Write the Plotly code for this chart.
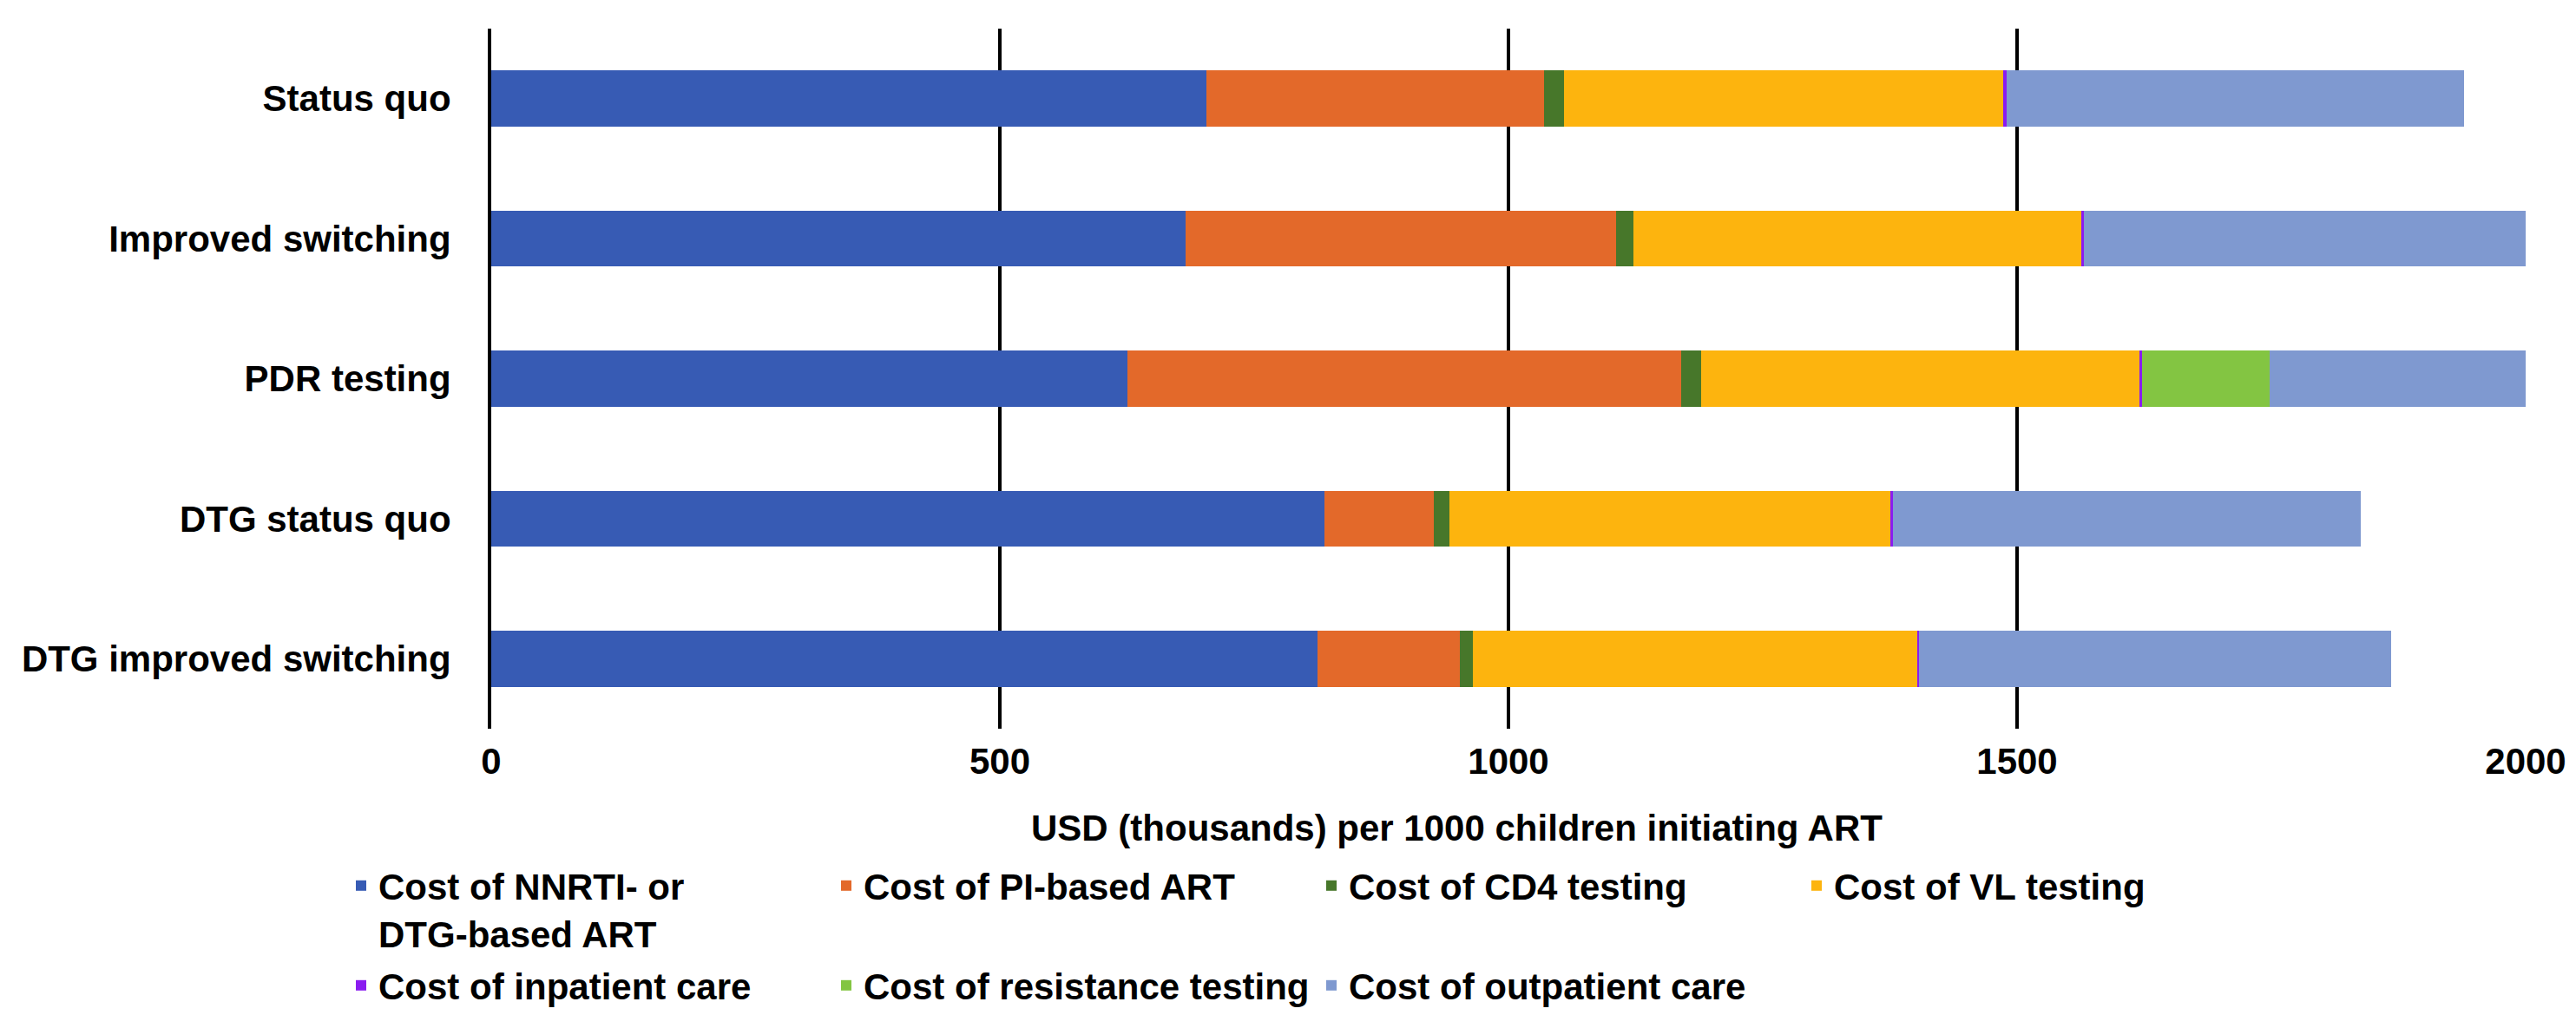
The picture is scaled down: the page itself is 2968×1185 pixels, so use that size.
import plotly.graph_objects as go

scenarios = ["Status quo", "Improved switching", "PDR testing", "DTG status quo", "DTG improved switching"]

series_names = [
    "Cost of NNRTI- or<br>DTG-based ART",
    "Cost of PI-based ART",
    "Cost of CD4 testing",
    "Cost of VL testing",
    "Cost of inpatient care",
    "Cost of resistance testing",
    "Cost of outpatient care",
]

nnrti_dtg_art = [703, 683, 625, 819, 812]
pi_art = [332, 423, 545, 108, 140]
cd4_testing = [20, 17, 19, 15, 13]
vl_testing = [431, 440, 431, 433, 437]
inpatient_care = [4, 3, 3, 3, 2]
resistance_testing = [0, 0, 125, 0, 0]
outpatient_care = [449, 460, 460, 460, 464]

series_values = [nnrti_dtg_art, pi_art, cd4_testing, vl_testing,
                 inpatient_care, resistance_testing, outpatient_care]
colors = ["#375BB4", "#E3692A", "#47772A", "#FDB40E", "#8A1CF0", "#83C542", "#7F99D0"]
legend_ids = ["legend", "legend", "legend", "legend", "legend2", "legend2", "legend2"]

x_ticks = [0, 500, 1000, 1500, 2000]
x_title = "USD (thousands) per 1000 children initiating ART"

W, H = 2968, 1185
L, R, T, B = 558, 66, 25, 353
FONT = "Liberation Sans, Arial, sans-serif"
FS = 42

fig = go.Figure()
for name, vals, col, lg in zip(series_names, series_values, colors, legend_ids):
    fig.add_trace(go.Bar(
        y=scenarios, x=vals, name=name, orientation="h",
        marker=dict(color=col, line=dict(width=0)),
        legend=lg,
    ))

plot_w = W - L - R
plot_h = H - T - B
bottom_px = H - B


def px_to_xpaper(px):
    return (px - L) / plot_w


def px_to_ypaper(px):
    return (bottom_px - px) / plot_h


legend_common = dict(
    orientation="h",
    xref="paper", yref="paper",
    xanchor="left", yanchor="top",
    font=dict(family=FONT, size=FS, color="black", weight="bold"),
    entrywidth=514, entrywidthmode="pixels",
    valign="top",
    bgcolor="rgba(0,0,0,0)",
    traceorder="normal",
    tracegroupgap=0,
)

fig.update_layout(
    width=W, height=H,
    margin=dict(l=L, r=R, t=T, b=B, autoexpand=False),
    barmode="stack",
    bargap=0.6,
    plot_bgcolor="white",
    paper_bgcolor="white",
    font=dict(family=FONT, size=FS, color="black", weight="bold"),
    showlegend=True,
    legend=dict(legend_common, x=px_to_xpaper(388), y=px_to_ypaper(979)),
    legend2=dict(legend_common, x=px_to_xpaper(388), y=px_to_ypaper(1094)),
    xaxis=dict(
        range=[0, 2000],
        tickvals=x_ticks,
        ticktext=[str(v) for v in x_ticks],
        showgrid=True, gridcolor="black", gridwidth=4,
        zeroline=False,
        showline=False,
        ticks="",
        ticklabelstandoff=9,
        tickfont=dict(family=FONT, size=FS, color="black", weight="bold"),
        fixedrange=True,
    ),
    yaxis=dict(
        autorange="reversed",
        categoryorder="array", categoryarray=scenarios,
        showgrid=False, zeroline=False,
        showline=True, linecolor="black", linewidth=4,
        ticks="",
        ticklabelstandoff=34,
        tickfont=dict(family=FONT, size=FS, color="black", weight="bold"),
        fixedrange=True,
    ),
    annotations=[dict(
        text=x_title, xref="paper", yref="paper",
        x=px_to_xpaper(1670), y=px_to_ypaper(946),
        xanchor="center", yanchor="middle", showarrow=False,
        font=dict(family=FONT, size=FS, color="black", weight="bold"),
    )],
)

fig.write_html("out.html")
